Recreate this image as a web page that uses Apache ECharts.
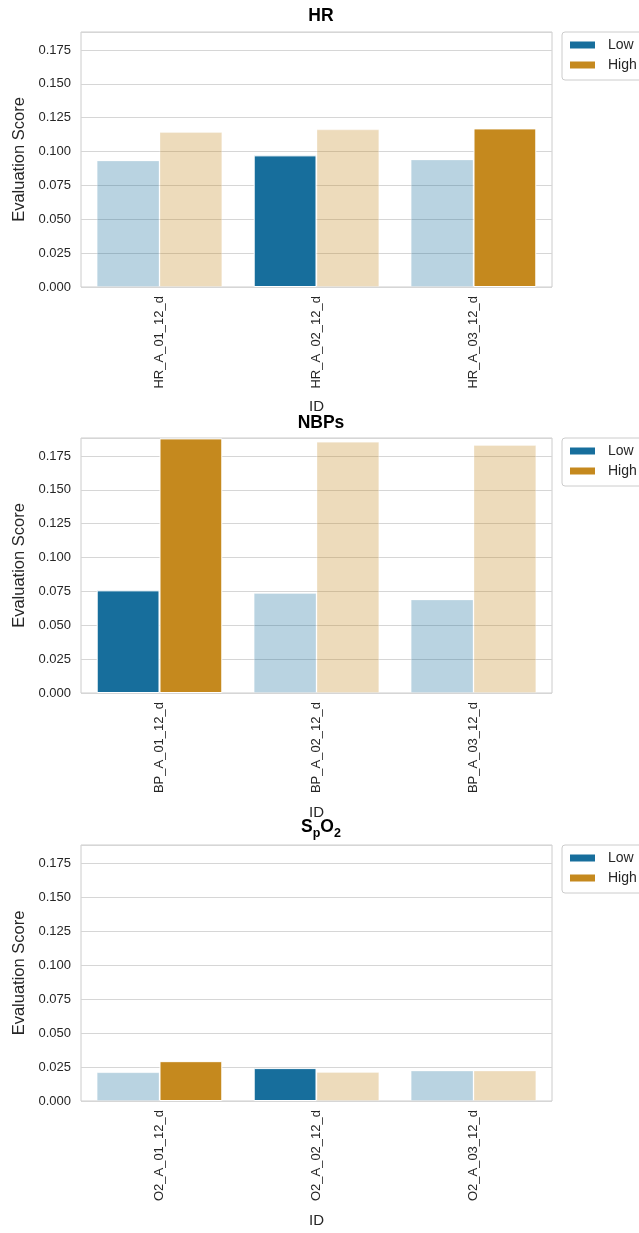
<!DOCTYPE html>
<html>
<head>
<meta charset="utf-8">
<script src="https://cdn.jsdelivr.net/npm/echarts@6/dist/echarts.min.js"></script>
<style>
  html, body { margin: 0; padding: 0; background: #ffffff; }
  #chart { width: 639px; height: 1233px; }
</style>
</head>
<body>
<div id="chart"></div>
<script>
// Categories for each panel
const hrIds = ['HR_A_01_12_d', 'HR_A_02_12_d', 'HR_A_03_12_d'];
const bpIds = ['BP_A_01_12_d', 'BP_A_02_12_d', 'BP_A_03_12_d'];
const o2Ids = ['O2_A_01_12_d', 'O2_A_02_12_d', 'O2_A_03_12_d'];

// Evaluation scores per group
const hrLow  = [0.0935, 0.0972, 0.0942];
const hrHigh = [0.1144, 0.1164, 0.1171];
const bpLow  = [0.0758, 0.0738, 0.0691];
const bpHigh = [0.1880, 0.1856, 0.1831];
const o2Low  = [0.0212, 0.0242, 0.0224];
const o2High = [0.0293, 0.0214, 0.0224];

// Which bars are emphasised (others drawn faded)
const hrLowFocus  = [false, true, false];
const hrHighFocus = [false, false, true];
const bpLowFocus  = [true, false, false];
const bpHighFocus = [true, false, false];
const o2LowFocus  = [false, true, false];
const o2HighFocus = [true, false, false];

// Y-axis ticks
const yTicks = [0, 0.025, 0.05, 0.075, 0.1, 0.125, 0.15, 0.175];
const yMax = 0.1883;

const FONT = '"Liberation Sans", Arial, sans-serif';
const LOW_COLOR = '#176e9c';
const HIGH_COLOR = '#c5891e';
const FADE = 0.3;

const panels = [
  { ids: hrIds, low: hrLow, high: hrHigh, lowF: hrLowFocus, highF: hrHighFocus, top: 32, height: 255, title: '{m|HR}', titleTop: 1 },
  { ids: bpIds, low: bpLow, high: bpHigh, lowF: bpLowFocus, highF: bpHighFocus, top: 438, height: 255, title: '{m|NBPs}', titleTop: 408 },
  { ids: o2Ids, low: o2Low, high: o2High, lowF: o2LowFocus, highF: o2HighFocus, top: 845, height: 256, title: '{m|S}{s|p}{m|O}{s|2}', titleTop: 812 }
];

const grids = [], xAxes = [], yAxes = [], series = [], titles = [], legends = [];

panels.forEach((p, i) => {
  grids.push({
    left: 81, right: 87, top: p.top, height: p.height,
    show: true, borderColor: '#cccccc', borderWidth: 1, backgroundColor: 'transparent'
  });
  xAxes.push({
    type: 'category', gridIndex: i, data: p.ids,
    axisLine: { show: false }, axisTick: { show: false },
    axisLabel: { rotate: 90, fontSize: 13, color: '#262626', fontFamily: FONT, margin: 9 },
    name: 'ID', nameLocation: 'middle', nameGap: 112,
    nameTextStyle: { fontSize: 15, color: '#262626', fontFamily: FONT }
  });
  yAxes.push({
    type: 'value', gridIndex: i, min: 0, max: yMax, interval: 0.025,
    axisLine: { show: false }, axisTick: { show: false },
    splitLine: { show: true, lineStyle: { color: '#d6d6d6', width: 1 } },
    axisLabel: {
      fontSize: 13, color: '#262626', fontFamily: FONT, margin: 10, showMaxLabel: false,
      formatter: v => yTicks.some(t => Math.abs(t - v) < 1e-9) ? v.toFixed(3) : ''
    },
    name: 'Evaluation Score', nameLocation: 'middle', nameGap: 46,
    nameTextStyle: { fontSize: 16.5, color: '#262626', fontFamily: FONT }
  });
  const mk = (vals, focus) => vals.map((v, k) => ({ value: v, itemStyle: { opacity: focus[k] ? 1 : FADE } }));
  series.push({
    name: 'Low', type: 'bar', xAxisIndex: i, yAxisIndex: i,
    data: mk(p.low, p.lowF), barGap: '0%', barCategoryGap: '20%',
    itemStyle: { color: LOW_COLOR, borderColor: '#ffffff', borderWidth: 1 },
    emphasis: { disabled: true }
  });
  series.push({
    name: 'High', type: 'bar', xAxisIndex: i, yAxisIndex: i,
    data: mk(p.high, p.highF), barGap: '0%', barCategoryGap: '20%',
    itemStyle: { color: HIGH_COLOR, borderColor: '#ffffff', borderWidth: 1 },
    emphasis: { disabled: true }
  });
  titles.push({
    text: p.title, left: 316, top: p.titleTop, textAlign: 'center',
    textStyle: {
      rich: {
        m: { fontSize: 17.5, fontWeight: 'bold', color: '#000000', fontFamily: FONT, lineHeight: 20 },
        s: { fontSize: 12.5, fontWeight: 'bold', color: '#000000', fontFamily: FONT, lineHeight: 14, padding: [14, 0, 0, 0] }
      }
    }
  });
  legends.push({
    data: ['Low', 'High'], left: 562, top: p.top, orient: 'vertical',
    icon: 'rect', itemWidth: 27, itemHeight: 9, itemGap: 6,
    padding: [6, 12, 8, 6], borderColor: '#cccccc', borderWidth: 1, borderRadius: 3,
    backgroundColor: '#ffffff', selectedMode: false,
    textStyle: { fontSize: 14, color: '#262626', fontFamily: FONT, padding: [0, 0, 0, 7] }
  });
});

const chart = echarts.init(document.getElementById('chart'), null, { renderer: 'canvas' });
chart.setOption({
  animation: false,
  backgroundColor: '#ffffff',
  title: titles,
  legend: legends,
  grid: grids,
  xAxis: xAxes,
  yAxis: yAxes,
  series: series
});
</script>
</body>
</html>
